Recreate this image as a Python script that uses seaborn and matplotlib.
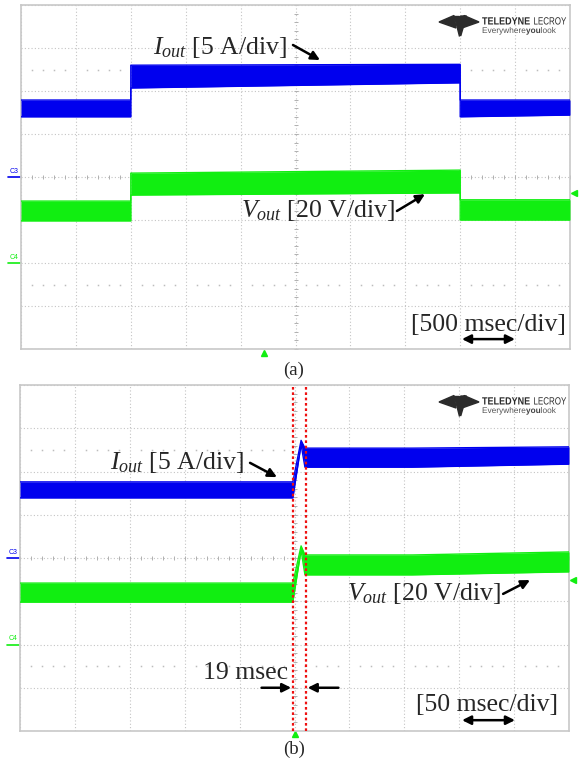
import numpy as np
import pandas as pd
import matplotlib.pyplot as plt
import seaborn as sns
from matplotlib.patches import Polygon, PathPatch
from matplotlib.textpath import TextPath
from matplotlib.font_manager import FontProperties
from matplotlib.transforms import blended_transform_factory, Affine2D

sns.set_style('white')
plt.rcParams['font.family'] = ['Liberation Serif', 'DejaVu Serif']
plt.rcParams['mathtext.fontset'] = 'custom'
plt.rcParams['mathtext.rm'] = 'Liberation Serif'
plt.rcParams['mathtext.it'] = 'Liberation Serif:italic'

BLUE = '#0000ee'
GREEN = '#11ee11'

# values are in screen divisions (0 = centre line), time in msec
# (a) 500 msec/div
t_a = [0, 1000, 1000, 4000, 4000, 5000]
iout_a_lo = [1.40, 1.40, 2.07, 2.19, 1.40, 1.44]
iout_a_hi = [1.79, 1.79, 2.60, 2.62, 1.79, 1.79]
vout_a_lo = [-1.02, -1.02, -0.42, -0.37, -1.00, -1.00]
vout_a_hi = [-0.56, -0.56, 0.09, 0.16, -0.53, -0.53]

# (b) 50 msec/div
t_b = [0, 248.5, 256, 259.5, 357, 500]
iout_b_lo = [1.39, 1.39, 2.62, 2.10, 2.10, 2.17]
iout_b_hi = [1.76, 1.76, 2.72, 2.54, 2.54, 2.57]
vout_b_lo = [-1.02, -1.02, 0.18, -0.39, -0.39, -0.32]
vout_b_hi = [-0.58, -0.58, 0.28, 0.07, 0.07, 0.14]
cursors_b = [248.5, 260.5]

trig_a, trig_b = 2213, 250.5
level_a, level_b = -0.37, -0.51

fig = plt.figure(figsize=(5.81, 7.63), dpi=100)


def px(x, y):
    return x / 581, 1 - y / 763


def scope_axes(rect, tmax):
    ax = fig.add_axes(rect)
    ax.set_xlim(0, tmax)
    ax.set_ylim(-4, 4)
    ax.set_xticks(np.linspace(0, tmax, 11))
    ax.set_yticks(range(-4, 5))
    ax.tick_params(length=0, labelbottom=False, labelleft=False)
    ax.set_axisbelow(True)
    ax.grid(True, ls=(0, (1, 2)), color='#c4c4c4', lw=0.8)
    for sp in ax.spines.values():
        sp.set_color('#c8c8c8')
        sp.set_linewidth(1.2)
    # small ticks on the centre cross
    fine_t = np.linspace(0, tmax, 51)
    ax.plot(fine_t, np.zeros_like(fine_t), ls='none', marker='|', ms=3.5,
            color='#b0b0b0', mew=0.7, zorder=1)
    fine_v = np.linspace(-4, 4, 41)
    ax.plot(np.full_like(fine_v, tmax / 2), fine_v, ls='none', marker='_',
            ms=3.5, color='#b0b0b0', mew=0.7, zorder=1)
    dots = fine_t[np.arange(51) % 5 != 0]
    for lvl in (2.5, -2.5):
        ax.plot(dots, np.full_like(dots, lvl), ls='none', marker='s', ms=1.1,
                color='#bdbdbd', mew=0, zorder=1)
    tr = blended_transform_factory(ax.transAxes, ax.transData)
    for lvl, name, col in ((0, 'C3', BLUE), (-2, 'C4', GREEN)):
        ax.text(-0.013, lvl + 0.05, name, color=col, fontsize=5,
                family='Liberation Sans', ha='center', va='bottom',
                transform=tr)
        ax.plot([-0.024, -0.002], [lvl, lvl], color=col, lw=1.2,
                transform=tr, clip_on=False)
    return ax


def trace(ax, t, lo, hi, color):
    ax.fill_between(t, lo, hi, color=color, lw=0, zorder=3)
    df = pd.DataFrame({'t': t + t, 'v': lo + hi,
                       'edge': ['lo'] * len(t) + ['hi'] * len(t)})
    sns.lineplot(data=df, x='t', y='v', units='edge', estimator=None,
                 color=color, lw=1.0, ax=ax, sort=False, legend=False,
                 zorder=3)
    ax.set_xlabel('')
    ax.set_ylabel('')


def arrow(ax, start, end, style='-|>'):
    ax.annotate('', xy=end, xytext=start,
                arrowprops=dict(arrowstyle=style, color='black', lw=1.8,
                                mutation_scale=13, shrinkA=0, shrinkB=0))


def squeezed(text, x, y, size, xscale, weight, color):
    # logo lettering, drawn in pixel units (baseline at y from the top)
    tp = TextPath((0, 0), text, size=size,
                  prop=FontProperties(family='Liberation Sans', weight=weight))
    tf = Affine2D().scale(xscale, 1).translate(x, 763 - y)
    fig.patches.append(PathPatch(tp, transform=tf, color=color, lw=0))
    return x + tp.get_extents().x1 * xscale


ax_a = scope_axes([*px(21, 349), 549 / 581, 344 / 763], 5000)
trace(ax_a, t_a, iout_a_lo, iout_a_hi, BLUE)
trace(ax_a, t_a, vout_a_lo, vout_a_hi, GREEN)
ax_a.text(1202, 3.0, r'$I_{out}$ [5 A/div]', fontsize=18.5, va='center')
arrow(ax_a, (2477, 3.07), (2723, 2.72))
ax_a.text(2004, -0.79, r'$V_{out}$ [20 V/div]', fontsize=18.5, va='center')
arrow(ax_a, (3424, -0.79), (3679, -0.40))
ax_a.text(4964, -3.44, '[500 msec/div]', fontsize=18.5, va='center',
          ha='right')
arrow(ax_a, (4016, -3.77), (4499, -3.77), '<|-|>')
ax_a.plot([trig_a], [-4.09], marker='^', ms=5, color=GREEN, clip_on=False)
ax_a.plot([5000 * 1.0065], [level_a], marker='<', ms=5, color=GREEN,
          clip_on=False)

ax_b = scope_axes([*px(20, 731), 549 / 581, 346 / 763], 500)
for c in cursors_b:
    ax_b.axvline(c, color='#ee1111', ls=(0, (1.2, 1.2)), lw=1.6, zorder=5)
trace(ax_b, t_b, iout_b_lo, iout_b_hi, BLUE)
trace(ax_b, t_b, vout_b_lo, vout_b_hi, GREEN)
ax_b.text(82, 2.2, r'$I_{out}$ [5 A/div]', fontsize=18.5, va='center')
arrow(ax_b, (209.5, 2.2), (234, 1.87))
ax_b.text(297.8, -0.81, r'$V_{out}$ [20 V/div]', fontsize=18.5, va='center')
arrow(ax_b, (440, -0.83), (464.5, -0.51))
ax_b.text(244, -2.66, '19 msec', fontsize=18.5, va='center', ha='right')
arrow(ax_b, (220, -3.0), (247, -3.0))
arrow(ax_b, (290, -3.0), (262, -3.0))
ax_b.text(490, -3.40, '[50 msec/div]', fontsize=18.5, va='center',
          ha='right')
arrow(ax_b, (402.6, -3.75), (450.8, -3.75), '<|-|>')
ax_b.plot([trig_b], [-4.07], marker='^', ms=5, color=GREEN, clip_on=False)
ax_b.plot([500 * 1.0065], [level_b], marker='<', ms=5, color=GREEN,
          clip_on=False)

icon = [[(439, 22), (454, 15.5), (456, 28)],
        [(479, 22), (464, 15.5), (462, 28)],
        [(453.5, 16), (459.3, 16), (459.3, 36)],
        [(460.7, 16), (466.5, 16), (460.7, 36)]]

for y0, lab, ly in ((0, '(a)', 370), (380, '(b)', 749)):
    for tri in icon:
        fig.patches.append(Polygon([px(x, y + y0) for x, y in tri],
                                   closed=True, color='#2b2b2b',
                                   transform=fig.transFigure))
    squeezed('TELEDYNE', 482, 24.5 + y0, 10.5, 0.86, 'bold', '#2b2b2b')
    squeezed('LECROY', 533.5, 24.5 + y0, 10.5, 0.76, 'normal', '#2b2b2b')
    x = squeezed('Everywhere', 482, 33 + y0, 8.3, 1.0, 'normal', '#555555')
    x = squeezed('you', x + 0.5, 33 + y0, 8.3, 1.0, 'bold', '#444444')
    squeezed('look', x + 0.5, 33 + y0, 8.3, 1.0, 'normal', '#555555')
    fig.text(*px(294, ly), lab, fontsize=13.5, ha='center', va='center')

fig.savefig('out.png', dpi=100)
